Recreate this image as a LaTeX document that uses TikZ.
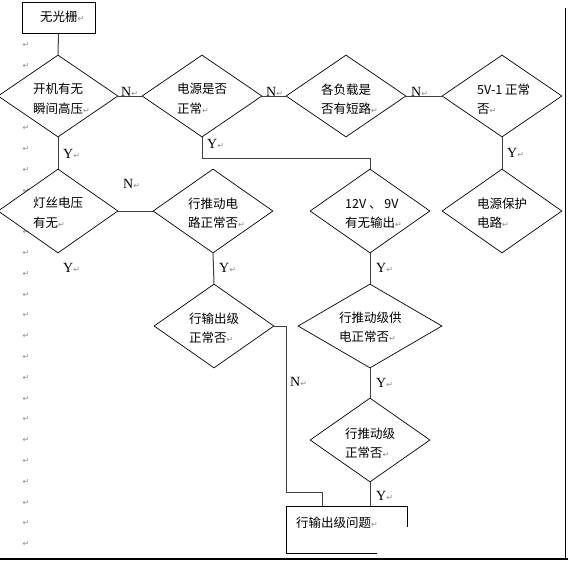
\documentclass[tikz,border=0pt]{standalone}
\usepackage{fontspec}
\setmainfont{Noto Sans CJK SC}
\newfontfamily\symf{DejaVu Sans}
\newfontfamily\latf{Liberation Serif}
\usetikzlibrary{shapes.geometric,calc}
\newcommand{\pmk}{{\symf\fontsize{8}{8}\selectfont\color{black!45}↵}}
\begin{document}
\begin{tikzpicture}[x=1pt,y=-1pt,
  dia/.style={diamond,draw=black,line width=0.7pt,fill=white,inner sep=0pt,minimum width=120pt,minimum height=84pt},
  dia1/.style={dia,minimum height=82pt},
  txt/.style={font=\fontsize{12.5}{19.5}\selectfont,align=left,inner sep=0pt,anchor=west},
  lab/.style={font=\latf\fontsize{14}{14}\selectfont,inner sep=0pt,anchor=west},
  pmark/.style={inner sep=0pt},
  conn/.style={draw=black!75,line width=1pt},
  boxst/.style={draw=black,line width=0.7pt,inner sep=0pt,fill=white}]
\fill[white] (0,0) rectangle (568,560);
\useasboundingbox (0,0) rectangle (568,560);
% left column of paragraph marks
\foreach \i in {0,...,24} \node[pmark] (m\i) at (26,{45+20.8*\i}) {\pmk};
% borders
\draw[black,line width=1pt] (565,8) -- (565,558);
\draw[black,line width=2pt] (0,559) -- (568,559);
% nodes
\node[boxst,minimum width=73pt,minimum height=31pt] (b1) at (58.5,17.5) {};
\node[dia1] (d1) at (58,96) {};
\node[dia1] (d2) at (202,96) {};
\node[dia1] (d3) at (346,96) {};
\node[dia1] (d4) at (502,96) {};
\node[dia] (d5) at (502,211) {};
\node[dia] (d6) at (370,211) {};
\node[dia,minimum width=144pt] (d7) at (370,326) {};
\node[dia] (d8) at (370,440) {};
\node[dia] (d9) at (58,211) {};
\node[dia] (d10) at (213,211) {};
\node[dia] (d11) at (214,326) {};
\node[inner sep=0pt,minimum width=120pt,minimum height=46pt] (b2) at (347,530) {};
% partial outline of the last box
\draw[black,line width=0.7pt] ($(b2.north east)+(0,20)$) -- (b2.north east) -- (b2.north west) -- (b2.south west) -- ($(b2.south west)+(90,0)$);
% texts
\node[txt] (t0) at (40,17) {无光栅\pmk};
\node[txt] (t1) at (33,98.5) {开机有无\\瞬间高压\pmk};
\node[txt] (t2) at (177,99) {电源是否\\正常\pmk};
\node[txt] (t3) at (321,99) {各负载是\\否有短路\pmk};
\node[txt] (t4) at (477,99) {5V-1 正常\\否\pmk};
\node[txt] (t5) at (477,213) {电源保护\\电路\pmk};
\node[txt] (t6) at (345,214) {12V 、 9V\\有无输出\pmk};
\node[txt] (t7) at (339,327) {行推动级供\\电正常否\pmk};
\node[txt] (t8) at (345,443) {行推动级\\正常否\pmk};
\node[txt] (t9) at (33,213) {灯丝电压\\有无\pmk};
\node[txt] (t10) at (188,213) {行推动电\\路正常否\pmk};
\node[txt] (t11) at (189,328) {行输出级\\正常否\pmk};
\node[txt] (t12) at (296,523) {行输出级问题\pmk};
% labels
\node[lab] (n1) at (121,92) {N\pmk};
\node[lab] (n2) at (266,92) {N\pmk};
\node[lab] (n3) at (411,92) {N\pmk};
\node[lab] (y1) at (63,154) {Y\pmk};
\node[lab] (y2) at (207,144) {Y\pmk};
\node[lab] (y3) at (507,153) {Y\pmk};
\node[lab] (n4) at (123,184) {N\pmk};
\node[lab] (y4) at (63,268) {Y\pmk};
\node[lab] (y5) at (219,268) {Y\pmk};
\node[lab] (y6) at (376,268) {Y\pmk};
\node[lab] (n5) at (290,382) {N\pmk};
\node[lab] (y7) at (376,383) {Y\pmk};
\node[lab] (y8) at (376,496) {Y\pmk};
% connectors
\coordinate (c1) at (370,158);
\coordinate (c2) at (322,492);
\draw[conn] (b1.south) -- (d1.north);
\draw[conn] (d1.east) -- (d2.west);
\draw[conn] (d2.east) -- (d3.west);
\draw[conn] (d3.east) -- (d4.west);
\draw[conn] (d4.south) -- (d5.north);
\draw[conn] (d2.south) |- (c1) -- (d6.north);
\draw[conn] (d6.south) -- (d7.north);
\draw[conn] (d7.south) -- (d8.north);
\draw[conn] (d8.south) -- (d8.south |- b2.north);
\draw[conn] (d1.south) -- (d9.north);
\draw[conn] (d9.east) -- (d10.west);
\draw[conn] (d10.south) -- (d11.north);
\draw[conn] (d11.east) -- ++(12,0) |- (c2) -- (c2 |- b2.north);
\end{tikzpicture}
\end{document}
